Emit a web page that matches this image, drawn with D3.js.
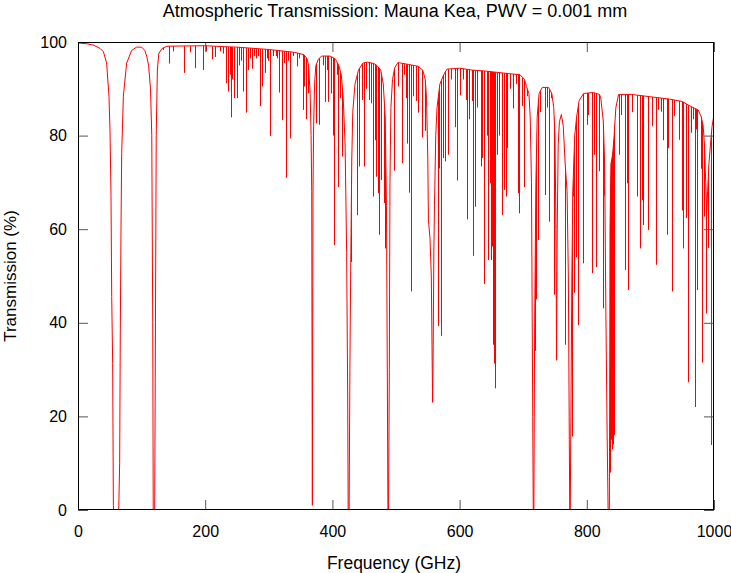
<!DOCTYPE html>
<html><head><meta charset="utf-8">
<script src="https://cdn.jsdelivr.net/npm/d3@7"></script>
<style>
body{margin:0;background:#fff}
svg{display:block}
text{font-family:"Liberation Sans",Arial,Helvetica,sans-serif;fill:#000}
</style>
</head><body>
<svg id="chart" width="731" height="573"></svg>
<script>
// Upper envelope (continuum incl. broad O2 / H2O bands), frequency in GHz, transmission in %
const envFreq = [0,15,25,35,40,45,48.7,50.3,51.9,53,54.5,55.6,56,64,65.5,66.5,67.6,68.7,71.3,76.5,84.4,92,100,105,108,111,114,116,117.5,118.3,120.6,121.8,123,124.8,127,132,140,200,230,250,300,340,355,360,362.5,365,366.5,367.5,368.5,369.5,370.5,372,374,378,383,396,402,405,410,414,417,420,422.4,424,424.8,426.3,427.5,429,430.5,432,435.5,441,448,455,465,470,476,480,483,485,486.5,487.3,488.3,489.5,490.5,492,494.5,498,503,520,535,542,546,548,550,551,553.5,555.5,557,557.6,558.5,559.5,560.5,562.5,564.5,569,575,580,600,620,640,660,680,695,702,705,709,711,713,715,715.8,716.8,718,720,722,725,730,740,745,748,750,751.5,752.5,753.5,755,757,760,763,766,769,771,772.5,773.2,774,775,776.5,778,781,784,788,795,810,820,822,826,828,830,832,833.5,835.5,836.5,838,840.7,843,845.7,850,870,900,930,950,960,970,975,980,983,985,987,988.5,990,992,995,997,1000];
const envTrans = [99.8,99.6,99.3,98.6,97.9,95.5,88.4,81.3,67,45.6,31.3,1,0,0,10,37.6,60,76.2,88.4,95.5,98.2,98.9,98.9,98.2,97,95,90,80,40,0,0,40,80,94,97.5,98.6,99.1,99.2,99,98.9,98.4,97.8,97.3,96.5,95,89,80,68,1,68,82,91,95,96.3,97,97,96.6,96.3,95,93,88,78,55,25,0,0,30,55,75,85,91,94,95.5,95.7,95.4,95,94,91,84,65,25,0,0,30,70,86,92,94.5,95.6,95.2,94.8,94,92,88,75,62,58,50,30,23,35,55,65,80,86,91,93,94.2,94.4,94,93.8,93.5,93.2,93,92,90.5,89,84,70,20,0,0,40,70,84,89,90.3,90.3,89,86,80,60,32,60,78,83,84.5,82,74,68,50,15,0,0,20,50,68,80,84,87.5,89,89.2,88.8,88,83,74,42,16,0,0,60,74,76,80,86,88.8,88.8,88.3,87.8,87.3,86.5,85.8,85.5,84,82,78,70,64,68,74,79,82,84.5];

// Narrow absorption lines: centre frequency (GHz) and minimum transmission (%)
const lineFreq = [134,143,150,166.7,176,184,196,202,210.2,215.4,223,228,232.2,236.4,238.5,240.6,242.5,244.8,249.5,253,256,260,264.7,267.8,271,274.1,277,279.4,283,286.7,289.9,294.1,296.5,299.3,302.4,306,310.8,313.5,316.6,320.8,324,327.6,329.7,333.9,338,343.9,348,353.3,355.4,358.5,362.2,374.2,379.5,386,388.4,391,393.6,397.3,401.5,403,406.5,409.3,412,414.6,418,421.4,428.6,438,442.2,445.8,449.5,452.5,457.3,460.5,463.6,466.8,468.9,471,473,476.7,480.4,482.4,497.1,502.6,508.9,512.5,515.7,517.8,521,523.6,527.3,530.9,535.1,540.4,545.6,566.6,568.1,570.8,574.4,577.1,582.3,587,592.8,595.4,600.6,606,610,611.6,614.7,618.9,621.5,624.7,628,633.6,635.7,638.9,642.6,645.2,647.3,649.4,651.5,653,654.6,656.2,658.8,662,666.2,670.4,672.5,674.6,679,684.5,688,692.3,693.9,697.6,701.3,705.5,710.7,718.5,719.6,722.8,726,735,738,740.6,744,748,748.9,766,776.5,777.6,780.6,783.5,785.8,794,799.8,802.4,808.2,811.9,814,819.2,826,827.6,836.4,837,837.6,838.3,839,839.6,840.2,840.8,841.4,842,842.6,843.5,850.6,854.3,859.5,862.6,864.7,870.4,878.4,883.3,887.3,888.8,895.6,896.7,901.9,908.2,912.4,916.6,919.2,925.8,928.1,934,937.5,945.4,950.2,951.7,955.8,958.8,963.7,967.4,969.5,971.6,973,979.5,981.8,983.8,986.9,988.9,991,994.8];
const lineMin = [98.3,95.4,98,93.4,97.8,94.4,94,98,96.3,96.8,98,97.5,91.2,89.4,93,83.9,92,88,88,95,96,89.4,84.9,94,96.5,94.3,97,96.5,97,86.3,90.5,93.4,96.5,96,79.9,97,97,96.5,89.2,83.3,95.5,71,96,79.4,97,94.8,96.5,85.5,90.5,83.5,89,82.6,82.3,95,87.2,94,87.2,89,80,56.6,93,69,88,75.5,85,65.6,53,63,73.4,87.6,73.4,90,87.6,86.9,67,79,71.2,67.7,58.8,70.5,65.6,55.9,72.5,90.5,74.1,93,88,78.3,67.8,46.7,88.4,87.4,84.9,79.6,81,39.3,73,37.2,75.2,74.5,75.9,92,81.8,70.4,88.6,92,87.6,62.1,83.5,87.4,54.3,64.8,86,73.4,75.2,48.3,80,53.4,69.8,53.4,56.3,35.3,31.3,26,75.9,80,63,68.4,67,77.3,90,85.8,91,67.7,63.4,86.3,69,88.4,85.5,34,45,57.7,85,67.3,86,61.6,88,56.3,46,35.3,15.7,67,46.4,54,39.5,52.7,82.3,84.4,50.6,75.9,51.9,72.4,43.1,67.2,8,20,15,23,13,25,17,20,14,22,35,16,75.9,84.4,51.3,69.8,47,85,67,55.9,66.2,60.9,59.8,79.8,82,52.4,85.5,85.1,79,58.8,77.3,46.7,84.2,79.1,64,55.9,62.4,27.3,80.6,83.5,22,81.3,47,72.9,31.5,62.7,42,74,56,13.9];

const xTicks = [0,200,400,600,800,1000];
const yTicks = [0,20,40,60,80,100];
const titleText = "Atmospheric Transmission: Mauna Kea, PWV = 0.001 mm";
const xLabel = "Frequency (GHz)";
const yLabel = "Transmission (%)";

const svg = d3.select("#chart");
const L = 78, R = 714, T = 42, B = 510;
const x = d3.scaleLinear().domain([0,1000]).range([L,R]);
const y = d3.scaleLinear().domain([0,100]).range([B,T]);

const env = envFreq.map((f,i)=>[f, envTrans[i]]);
const defs = svg.append("defs");
defs.append("clipPath").attr("id","plotClip")
  .append("rect").attr("x",L).attr("y",T).attr("width",R-L).attr("height",B-T);
defs.append("clipPath").attr("id","underEnv")
  .append("path")
  .attr("d", d3.area().x(d=>x(d[0])).y0(B+2).y1(d=>y(d[1]))(env));

// spikes (narrow absorption lines)
const spikes = svg.append("g").attr("clip-path","url(#plotClip)")
  .append("g").attr("clip-path","url(#underEnv)");
spikes.selectAll("line").data(lineFreq).join("line")
  .attr("x1", f=>Math.round(x(f))+0.5)
  .attr("x2", f=>Math.round(x(f))+0.5)
  .attr("y1", (f,i)=>y(lineMin[i]))
  .attr("y2", y(100))
  .attr("stroke","#ff0000").attr("stroke-width",1);

// envelope line
svg.append("g").attr("clip-path","url(#plotClip)")
  .append("path")
  .attr("d", d3.line().x(d=>x(d[0])).y(d=>y(d[1]))(env))
  .attr("fill","none").attr("stroke","#ff0000").attr("stroke-width",1);

// axes (gnuplot style: inward ticks, mirrored)
const tickLen = 10;
const gx = svg.append("g").attr("transform",`translate(0,${B})`)
  .call(d3.axisBottom(x).tickValues(xTicks).tickFormat(d3.format("d")).tickSize(-tickLen).tickPadding(16));
const gxt = svg.append("g").attr("transform",`translate(0,${T})`)
  .call(d3.axisTop(x).tickValues(xTicks).tickFormat("").tickSize(-tickLen));
const gy = svg.append("g").attr("transform",`translate(${L},0)`)
  .call(d3.axisLeft(y).tickValues(yTicks).tickFormat(d3.format("d")).tickSize(-tickLen).tickPadding(11));
const gyr = svg.append("g").attr("transform",`translate(${R},0)`)
  .call(d3.axisRight(y).tickValues(yTicks).tickFormat("").tickSize(-tickLen));
[gx,gxt,gy,gyr].forEach(g=>{
  g.select(".domain").remove();
  g.selectAll(".tick line").attr("stroke","#555").attr("stroke-width",1);
  g.selectAll("text").attr("font-size",16).attr("font-family","Liberation Sans, Arial, sans-serif").attr("fill","#000");
});

// frame
svg.append("rect").attr("x",L+0.5).attr("y",T+0.5).attr("width",R-L-1).attr("height",B-T-1)
  .attr("fill","none").attr("stroke","#000").attr("stroke-width",1);

// titles
svg.append("text").attr("x",395).attr("y",17).attr("text-anchor","middle")
  .attr("font-size",18).text(titleText);
svg.append("text").attr("x",394).attr("y",569).attr("text-anchor","middle")
  .attr("font-size",17.5).text(xLabel);
svg.append("text").attr("transform","translate(16,276) rotate(-90)").attr("text-anchor","middle")
  .attr("font-size",17).text(yLabel);
</script>
</body></html>
